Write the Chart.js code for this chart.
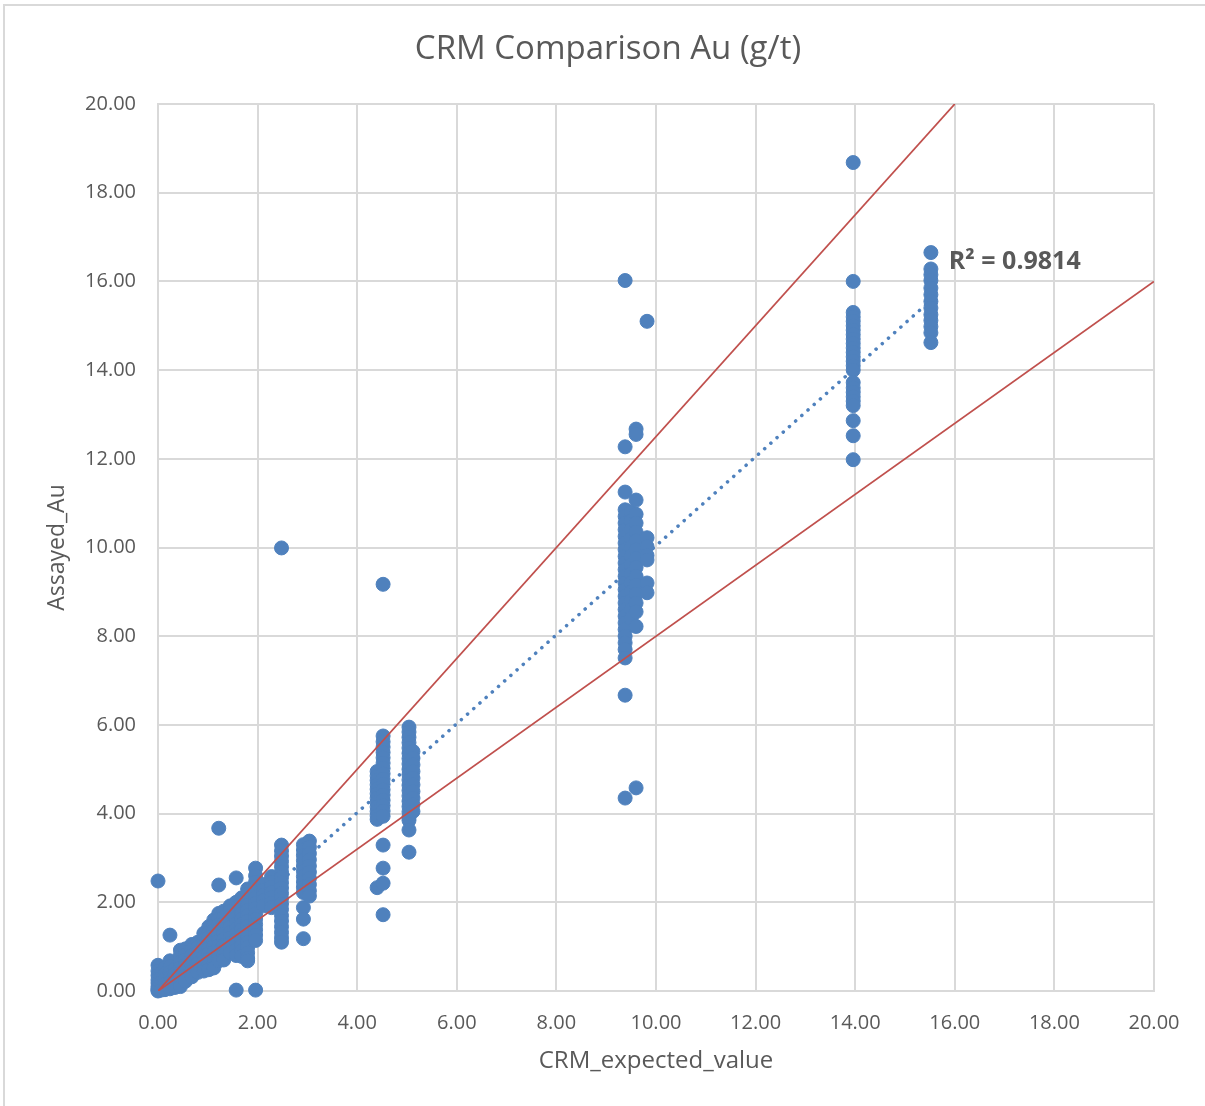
<!DOCTYPE html>
<html>
<head>
<meta charset="utf-8">
<title>CRM Comparison Au (g/t)</title>
<script src="https://cdn.jsdelivr.net/npm/chart.js@4.4.1/dist/chart.umd.min.js"></script>
<style>
  html, body { margin: 0; padding: 0; background: #fff; }
  #wrap { position: relative; width: 1205px; height: 1106px; overflow: hidden; }
  #frame {
    position: absolute; left: 3px; top: 4px; width: 1300px; height: 1200px;
    border: 2px solid #d9d9d9; box-sizing: border-box;
  }
  canvas { position: absolute; left: 0; top: 0; }
</style>
</head>
<body>
<div id="wrap">
  <div id="frame"></div>
  <canvas id="crmChart" width="1205" height="1106"></canvas>
</div>
<script>
// Assayed Au (g/t) returned for each certified reference material, keyed by expected value
const au_0_00 = [2.48, 0.58, 0.45, 0.35, 0.25, 0.18, 0.10, 0.05, 0.02, 0.00];
const au_0_06 = [0.40, 0.30, 0.20, 0.12, 0.06, 0.02];
const au_0_14 = [0.52, 0.38, 0.26, 0.15, 0.08, 0.03];
const au_0_24 = [1.26, 0.68, 0.55, 0.42, 0.30, 0.20, 0.12, 0.05];
const au_0_34 = [0.50, 0.38, 0.26, 0.16, 0.08];
const au_0_45 = [0.92, 0.80, 0.66, 0.52, 0.40, 0.28, 0.18, 0.10];
const au_0_55 = [0.95, 0.82, 0.70, 0.58, 0.46, 0.34, 0.22];
const au_0_68 = [1.05, 0.92, 0.80, 0.68, 0.56, 0.44, 0.32];
const au_0_80 = [1.10, 0.98, 0.86, 0.74, 0.62, 0.50, 0.42];
const au_0_92 = [1.30, 1.15, 1.02, 0.90, 0.78, 0.66, 0.54, 0.45];
const au_1_02 = [1.45, 1.32, 1.20, 1.08, 0.96, 0.84, 0.72, 0.60, 0.48];
const au_1_12 = [1.60, 1.48, 1.36, 1.24, 1.12, 1.00, 0.88, 0.76, 0.64, 0.52];
const au_1_22 = [3.67, 2.39, 1.75, 1.62, 1.50, 1.38, 1.26, 1.14, 1.02, 0.90, 0.78, 0.68];
const au_1_32 = [1.80, 1.66, 1.52, 1.40, 1.28, 1.16, 1.04, 0.92, 0.80, 0.70];
const au_1_45 = [1.92, 1.80, 1.68, 1.56, 1.44, 1.32, 1.20, 1.08, 0.96, 0.86];
const au_1_57 = [2.55, 2.00, 1.88, 1.76, 1.64, 1.52, 1.40, 1.28, 1.16, 1.04, 0.92, 0.80, 0.02];
const au_1_68 = [2.10, 1.98, 1.86, 1.74, 1.62, 1.50, 1.38, 1.26, 1.14, 1.02, 0.90, 0.78];
const au_1_80 = [2.30, 2.18, 2.06, 1.94, 1.82, 1.70, 1.58, 1.46, 1.34, 1.22, 1.10, 0.98, 0.86, 0.74, 0.68];
const au_1_96 = [2.77, 2.60, 2.46, 2.34, 2.22, 2.10, 1.98, 1.86, 1.74, 1.62, 1.50, 1.38, 1.26, 1.14, 0.02];
const au_2_12 = [2.40, 2.28, 2.16, 2.04, 1.92];
const au_2_28 = [2.58, 2.46, 2.34, 2.22, 2.10, 1.98, 1.88];
const au_2_48 = [9.99, 3.29, 3.16, 3.04, 2.92, 2.80, 2.68, 2.56, 2.44, 2.32, 2.20, 2.08, 1.96, 1.84, 1.70, 1.58, 1.45, 1.32, 1.20, 1.10];
const au_2_92 = [3.30, 3.18, 3.06, 2.94, 2.82, 2.70, 2.58, 2.46, 2.34, 2.22, 1.88, 1.62, 1.18];
const au_3_04 = [3.38, 3.24, 3.10, 2.96, 2.82, 2.68, 2.54, 2.40, 2.26, 2.14];
const au_4_40 = [4.95, 4.85, 4.75, 4.65, 4.55, 4.45, 4.35, 4.25, 4.15, 4.05, 3.95, 3.87, 2.33];
const au_4_52 = [9.17, 5.75, 5.62, 5.50, 5.38, 5.26, 5.14, 5.02, 4.90, 4.78, 4.66, 4.54, 4.42, 4.30, 4.18, 4.06, 3.94, 3.29, 2.77, 2.43, 1.72];
const au_5_04 = [5.95, 5.84, 5.72, 5.60, 5.48, 5.36, 5.24, 5.12, 5.00, 4.88, 4.76, 4.64, 4.52, 4.40, 4.28, 4.16, 4.04, 3.92, 3.85, 3.63, 3.13];
const au_5_12 = [5.40, 5.25, 5.10, 4.95, 4.80, 4.65, 4.50, 4.35, 4.20, 4.05];
const au_9_38 = [16.02, 12.27, 11.25, 10.85, 10.70, 10.55, 10.40, 10.25, 10.10, 9.95, 9.80, 9.65, 9.50, 9.35, 9.20, 9.05, 8.90, 8.75, 8.60, 8.45, 8.30, 8.15, 8.00, 7.85, 7.70, 7.51, 6.67, 4.35];
const au_9_50 = [10.80, 10.60, 10.40, 10.20, 10.00, 9.80, 9.60, 9.40, 9.20, 9.00, 8.80, 8.60, 8.40];
const au_9_60 = [12.67, 12.55, 11.07, 10.75, 10.55, 10.35, 10.15, 9.95, 9.75, 9.55, 9.35, 9.15, 8.95, 8.75, 8.55, 8.22, 4.58];
const au_9_82 = [15.10, 10.22, 10.02, 9.82, 9.72, 9.20, 8.98];
const au_13_96 = [18.68, 16.00, 15.30, 15.20, 15.10, 15.00, 14.90, 14.80, 14.70, 14.60, 14.50, 14.40, 14.30, 14.20, 14.10, 14.00, 13.72, 13.60, 13.50, 13.40, 13.30, 13.20, 12.86, 12.52, 11.98];
const au_15_52 = [16.65, 16.28, 16.15, 16.02, 15.85, 15.70, 15.55, 15.40, 15.25, 15.12, 14.98, 14.84, 14.62];

const expectedValues = [0.00, 0.06, 0.14, 0.24, 0.34, 0.45, 0.55, 0.68, 0.80, 0.92, 1.02, 1.12, 1.22, 1.32, 1.45,
  1.57, 1.68, 1.80, 1.96, 2.12, 2.28, 2.48, 2.92, 3.04, 4.40, 4.52, 5.04, 5.12, 9.38, 9.50, 9.60, 9.82, 13.96, 15.52];
const assayGroups = [au_0_00, au_0_06, au_0_14, au_0_24, au_0_34, au_0_45, au_0_55, au_0_68, au_0_80, au_0_92, au_1_02,
  au_1_12, au_1_22, au_1_32, au_1_45, au_1_57, au_1_68, au_1_80, au_1_96, au_2_12, au_2_28, au_2_48, au_2_92, au_3_04,
  au_4_40, au_4_52, au_5_04, au_5_12, au_9_38, au_9_50, au_9_60, au_9_82, au_13_96, au_15_52];

// Linear trendline and the bounds (slopes 1.25 and 0.8 through the origin)
const trendSlope = 1.003;
const trendIntercept = 0.01;
const rSquaredText = 'R\u00B2 = 0.9814';
const chartTitle = 'CRM Comparison Au (g/t)';
const upperSlope = 1.25;
const lowerSlope = 0.8;
const axisMax = 20;

const COLORS = {
    marker: '#4f81bd',
    bound: '#c0504d',
    grid: '#d9d9d9',
    text: '#595959'
};
const FONT = "'Open Sans', 'Noto Sans', sans-serif";

const points = [];
expectedValues.forEach((x, i) => {
    assayGroups[i].forEach(y => points.push({ x: x, y: y }));
});

const maxExpected = Math.max(...expectedValues);
const trendPoints = [
    { x: 0, y: trendIntercept },
    { x: maxExpected, y: trendSlope * maxExpected + trendIntercept }
];
const upperPoints = [{ x: 0, y: 0 }, { x: axisMax / upperSlope, y: axisMax }];
const lowerPoints = [{ x: 0, y: 0 }, { x: axisMax, y: axisMax * lowerSlope }];

// Chart title (centred over the whole frame) and the R² label next to the trendline
const chartLabels = {
    id: 'chartLabels',
    afterDatasetsDraw(chart) {
        const { ctx, scales } = chart;
        ctx.save();
        ctx.fillStyle = COLORS.text;
        ctx.textBaseline = 'middle';

        ctx.font = "33px " + FONT;
        ctx.textAlign = 'center';
        ctx.fillText(chartTitle, 608, 50);

        ctx.font = "bold 25px " + FONT;
        ctx.textAlign = 'left';
        ctx.fillText(rSquaredText, scales.x.getPixelForValue(15.88), scales.y.getPixelForValue(16.45));
        ctx.restore();
    }
};

const ctx = document.getElementById('crmChart').getContext('2d');
new Chart(ctx, {
    type: 'scatter',
    data: {
        datasets: [
            {
                label: 'Upper bound',
                data: upperPoints,
                showLine: true,
                borderColor: COLORS.bound,
                borderWidth: 1.8,
                pointRadius: 0,
                order: 0
            },
            {
                label: 'Lower bound',
                data: lowerPoints,
                showLine: true,
                borderColor: COLORS.bound,
                borderWidth: 1.8,
                pointRadius: 0,
                order: 0
            },
            {
                label: 'Assayed_Au',
                data: points,
                backgroundColor: COLORS.marker,
                borderColor: COLORS.marker,
                borderWidth: 1,
                pointRadius: 7,
                pointHoverRadius: 7,
                clip: false,
                order: 1
            },
            {
                label: 'Linear (Assayed_Au)',
                data: trendPoints,
                showLine: true,
                borderColor: COLORS.marker,
                borderWidth: 3.5,
                borderDash: [0.1, 8.2],
                borderCapStyle: 'round',
                pointRadius: 0,
                order: 2
            }
        ]
    },
    options: {
        responsive: false,
        animation: false,
        events: [],
        layout: { padding: { left: 0, right: 51, top: 104, bottom: 0 } },
        plugins: {
            legend: { display: false },
            tooltip: { enabled: false },
            title: { display: false }
        },
        scales: {
            x: {
                type: 'linear',
                min: 0,
                max: axisMax,
                ticks: {
                    stepSize: 2,
                    color: COLORS.text,
                    font: { family: FONT, size: 20 },
                    padding: 20,
                    callback: v => v.toFixed(2)
                },
                grid: { color: COLORS.grid, lineWidth: 2, drawTicks: false },
                border: { color: COLORS.grid, width: 2 },
                title: {
                    display: true,
                    text: 'CRM_expected_value',
                    color: COLORS.text,
                    font: { family: FONT, size: 24 },
                    padding: { top: 0, bottom: 30 }
                },
                afterFit: scale => { scale.height = 115; }
            },
            y: {
                type: 'linear',
                min: 0,
                max: axisMax,
                ticks: {
                    stepSize: 2,
                    color: COLORS.text,
                    font: { family: FONT, size: 20 },
                    padding: 22,
                    callback: v => v.toFixed(2)
                },
                grid: { color: COLORS.grid, lineWidth: 2, drawTicks: false },
                border: { color: COLORS.grid, width: 2 },
                title: {
                    display: true,
                    text: 'Assayed_Au',
                    color: COLORS.text,
                    font: { family: FONT, size: 23 },
                    padding: { top: 44, bottom: 0 }
                },
                afterFit: scale => { scale.width = 158; }
            }
        }
    },
    plugins: [chartLabels]
});
</script>
</body>
</html>
